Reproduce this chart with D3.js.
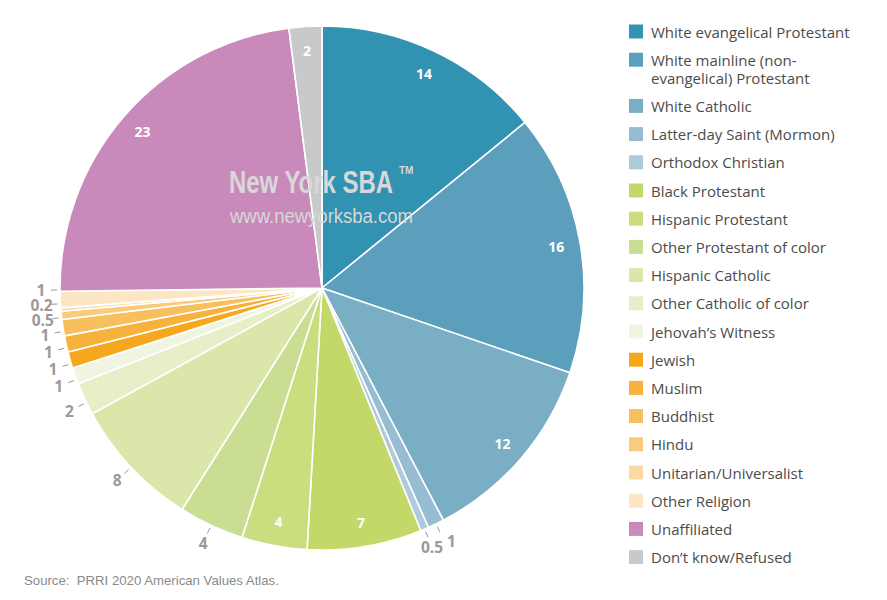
<!DOCTYPE html>
<html>
<head>
<meta charset="utf-8">
<script src="https://cdn.jsdelivr.net/npm/d3@7"></script>
<style>
  html, body { margin: 0; padding: 0; background: #fff; }
  svg { display: block; }
</style>
</head>
<body>
<svg id="chart" width="887" height="600"></svg>
<script>
// ---------- data ----------
const categories = [
  "White evangelical Protestant",
  "White mainline (non-evangelical) Protestant",
  "White Catholic",
  "Latter-day Saint (Mormon)",
  "Orthodox Christian",
  "Black Protestant",
  "Hispanic Protestant",
  "Other Protestant of color",
  "Hispanic Catholic",
  "Other Catholic of color",
  "Jehovah\u2019s Witness",
  "Jewish",
  "Muslim",
  "Buddhist",
  "Hindu",
  "Unitarian/Universalist",
  "Other Religion",
  "Unaffiliated",
  "Don\u2019t know/Refused"
];
const values = [14, 16, 12, 1, 0.5, 7, 4, 4, 8, 2, 1, 1, 1, 1, 0.5, 0.2, 1, 23, 2];
const colors = [
  "#3193b1", "#5b9fbc", "#79aec5", "#96bdd2", "#afcadb",
  "#c2d96a", "#cadd7f", "#c9de93", "#dbe6aa", "#e6efc8", "#f0f5e1",
  "#f5a81d", "#f7b23e", "#f8bf5e", "#fbcb7d", "#fcd9a0", "#fde6c3",
  "#c98abb", "#c8c9cb"
];
// categories whose value label sits inside the slice
const insideLabelCats = [
  "White evangelical Protestant",
  "White mainline (non-evangelical) Protestant",
  "White Catholic",
  "Black Protestant",
  "Hispanic Protestant",
  "Unaffiliated",
  "Don\u2019t know/Refused"
];
const sourceText = "Source:  PRRI 2020 American Values Atlas.";

// ---------- drawing ----------
const svg = d3.select("#chart");
const cx = 322, cy = 288, R = 262;
const data = categories.map((c, i) => ({ cat: c, value: values[i], color: colors[i] }));

const pie = d3.pie().sort(null).value(d => d.value);
const arcs = pie(data);
const arc = d3.arc().innerRadius(0).outerRadius(R);

const g = svg.append("g").attr("transform", `translate(${cx},${cy})`);

g.selectAll("path.slice")
  .data(arcs)
  .enter().append("path")
  .attr("class", "slice")
  .attr("d", arc)
  .attr("fill", d => d.data.color)
  .attr("stroke", "#fff")
  .attr("stroke-width", 1.6)
  .attr("stroke-linejoin", "round");

// watermark (horizontally condensed text)
function condensedText(str, x, y, size, weight, targetW) {
  const t = svg.append("text")
    .attr("font-family", "Liberation Sans, Arial, sans-serif")
    .attr("font-weight", weight)
    .attr("font-size", size)
    .attr("fill", "#d8d8d8")
    .text(str);
  const w = t.node().getComputedTextLength();
  t.attr("transform", `translate(${x},${y}) scale(${targetW / w},1)`);
  return t;
}
condensedText("New York SBA", 229, 193, 31, "bold", 164);
condensedText("www.newyorksba.com", 230, 222.5, 19.5, "normal", 183);
svg.append("text")
  .attr("x", 399).attr("y", 174)
  .attr("font-family", "Liberation Sans, Arial, sans-serif")
  .attr("font-weight", "bold")
  .attr("font-size", 10)
  .attr("fill", "#d8d8d8")
  .text("TM");

// inside labels
const inArc = d3.arc().innerRadius(238).outerRadius(238);
g.selectAll("text.inlbl")
  .data(arcs.filter(d => insideLabelCats.includes(d.data.cat)))
  .enter().append("text")
  .attr("class", "inlbl")
  .attr("transform", d => `translate(${inArc.centroid(d)})`)
  .attr("text-anchor", "middle")
  .attr("dominant-baseline", "central")
  .attr("font-family", "Open Sans, sans-serif")
  .attr("font-weight", "bold")
  .attr("font-size", 14)
  .attr("fill", "#fff")
  .text(d => d.data.value);

// outside labels
const LR = 281, T0 = 265, T1 = 271;
const outs = arcs.filter(d => !insideLabelCats.includes(d.data.cat)).map(d => {
  const a = (d.startAngle + d.endAngle) / 2;
  return { d, a, x: Math.sin(a) * LR, y: -Math.cos(a) * LR, tickA: a };
});
const outText = g.selectAll("text.outlbl")
  .data(outs)
  .enter().append("text")
  .attr("class", "outlbl")
  .attr("text-anchor", "middle")
  .attr("dominant-baseline", "central")
  .attr("font-family", "Open Sans, sans-serif")
  .attr("font-weight", "bold")
  .attr("font-size", 15.5)
  .attr("fill", "#a09797")
  .text(o => o.d.data.value);
outText.each(function(o) { o.w = this.getComputedTextLength(); });

// left group: resolve vertically, pushing upward
const left = outs.filter(o => o.x < -150).sort((p, q) => q.y - p.y);
left.forEach(o => { if (o.y > 0 && o.y < 150) o.y += 4; });
for (let i = 1; i < left.length; i++) {
  if (left[i].y > left[i - 1].y - 14.8) left[i].y = left[i - 1].y - 14.8;
}
left.forEach(o => {
  o.x = -Math.sqrt(LR * LR - o.y * o.y);
  o.tickA = Math.atan2(o.x, -o.y);
});
// others: resolve horizontally, pushing rightward
const rest = outs.filter(o => o.x >= -150).sort((p, q) => p.x - q.x);
for (let i = 1; i < rest.length; i++) {
  const p = rest[i - 1], q = rest[i];
  if (Math.abs(p.y - q.y) < 16) {
    const minX = p.x + p.w / 2 + 4 + q.w / 2;
    if (q.x < minX) q.x = minX;
  }
}
outText.attr("x", o => o.x).attr("y", o => o.y);

g.selectAll("line.tick")
  .data(outs)
  .enter().append("line")
  .attr("class", "tick")
  .attr("x1", o => Math.sin(o.tickA) * T0)
  .attr("y1", o => -Math.cos(o.tickA) * T0)
  .attr("x2", o => Math.sin(o.tickA) * T1)
  .attr("y2", o => -Math.cos(o.tickA) * T1)
  .attr("stroke", "#a09797")
  .attr("stroke-width", 1);

// legend
const legX = 629, legTextX = 651;
const legend = svg.append("g");
let yc = 31.5;
const maxW = 205;
data.forEach((d, i) => {
  const t = legend.append("text")
    .attr("x", legTextX)
    .attr("font-family", "Open Sans, sans-serif")
    .attr("font-size", 15)
    .attr("fill", "#4c4c4c")
    .attr("dominant-baseline", "central");
  // word wrap (break at spaces and after hyphens)
  const tokens = d.cat.match(/[^\s-]+-?\s?|\s+/g);
  const lines = [];
  let cur = "";
  const probe = legend.append("text").attr("font-family", "Open Sans, sans-serif").attr("font-size", 15);
  tokens.forEach(tok => {
    const trial = cur + tok;
    probe.text(trial.trim());
    if (cur && probe.node().getComputedTextLength() > maxW) {
      lines.push(cur.trim());
      cur = tok;
    } else cur = trial;
  });
  lines.push(cur.trim());
  probe.remove();
  lines.forEach((ln, k) => {
    t.append("tspan").attr("x", legTextX).attr("y", yc + k * 18).text(ln);
  });
  legend.append("rect")
    .attr("x", legX).attr("y", yc - 7)
    .attr("width", 14).attr("height", 14)
    .attr("fill", d.color);
  yc += 18 * lines.length + 10.2;
});

// source
svg.append("text")
  .attr("x", 24).attr("y", 585)
  .attr("font-family", "Liberation Sans, Arial, sans-serif")
  .attr("font-size", 13.2)
  .attr("fill", "#8a8a8a")
  .style("white-space", "pre")
  .text(sourceText);
</script>
</body>
</html>
